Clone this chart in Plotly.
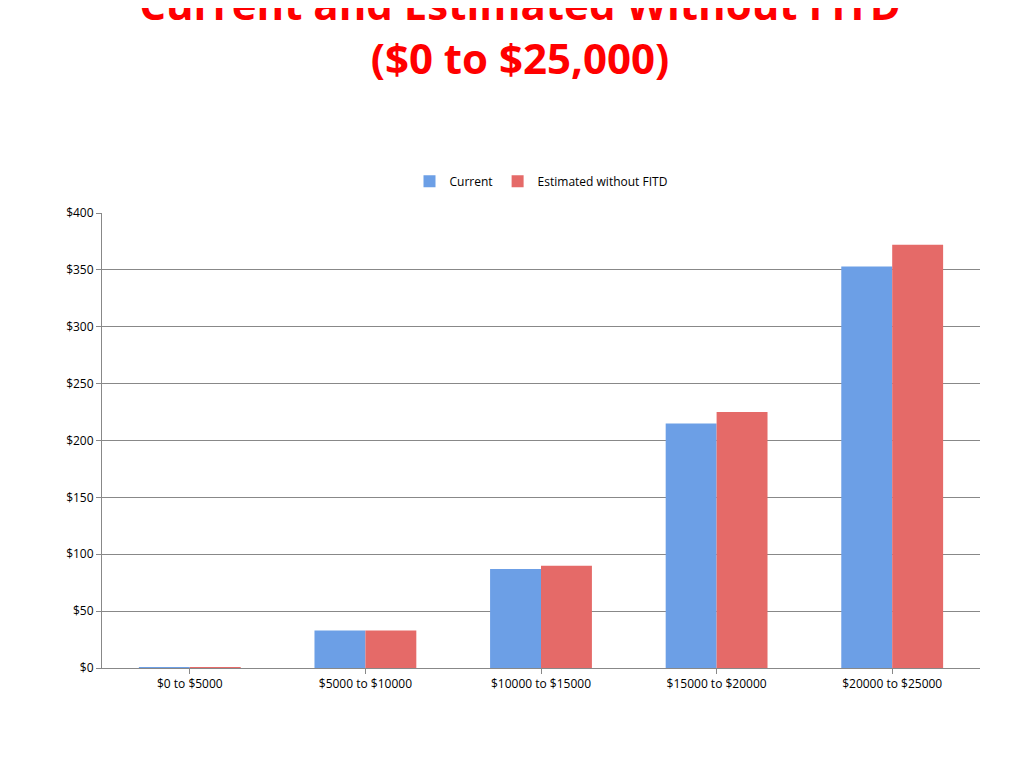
import plotly.graph_objects as go

categories = ["$0 to $5000", "$5000 to $10000", "$10000 to $15000",
              "$15000 to $20000", "$20000 to $25000"]
current = [0.5, 33, 87, 215, 353]
estimated = [0.5, 33, 90, 225, 372]
y_ticks = [0, 50, 100, 150, 200, 250, 300, 350, 400]

fig = go.Figure()
fig.add_trace(go.Bar(x=categories, y=current, name="Current",
                     marker=dict(color="#6c9fe6", line=dict(width=0))))
fig.add_trace(go.Bar(x=categories, y=estimated, name="Estimated without FITD",
                     marker=dict(color="#e56a68", line=dict(width=0))))

fig.update_layout(
    width=1024, height=768,
    paper_bgcolor="white", plot_bgcolor="white",
    margin=dict(l=94, r=52, t=205, b=108),
    barmode="group", bargap=0.42, bargroupgap=0,
    font=dict(family="Open Sans, Arial", size=12, color="black"),
    title=dict(text="<b>Current and Estimated Without FITD<br>($0 to $25,000)</b>",
               x=0.5, xanchor="center", yref="container", y=0.985, yanchor="top",
               font=dict(size=42, color="#ff0000", family="Open Sans")),
    legend=dict(orientation="h", x=0.5, xanchor="center", y=1.07, yanchor="middle",
                font=dict(size=12), itemwidth=30),
)
fig.update_xaxes(showline=True, linecolor="#888", ticks="outside", tickcolor="#888",
                 ticklen=5, showgrid=False)
fig.update_yaxes(range=[0, 400], tickvals=y_ticks,
                 ticktext=["$" + str(v) for v in y_ticks],
                 showgrid=True, gridcolor="#888", showline=True, linecolor="#888",
                 ticks="outside", tickcolor="#888", ticklen=5, zeroline=False)

fig.write_html("out.html")
